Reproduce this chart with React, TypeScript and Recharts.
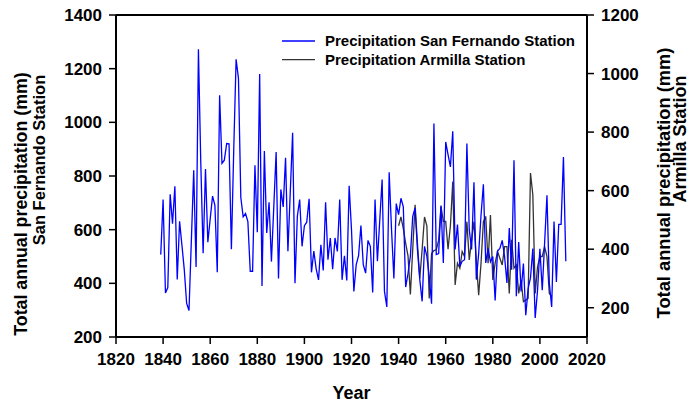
import React from 'react'
import { LineChart, Line, XAxis, YAxis, ReferenceLine } from 'recharts'

const FONT = '"Liberation Sans", Arial, sans-serif'

const firstYear = 1839
const armillaFirstYear = 1940

// total annual precipitation, San Fernando station (mm), 1839-2011
const sanFernando = [
  507, 712, 364, 384, 732, 622, 762, 414, 631, 542,
  450, 325, 299, 560, 821, 461, 1272, 850, 512, 826,
  553, 640, 725, 691, 441, 1101, 847, 859, 921, 920,
  527, 900, 1235, 1164, 720, 648, 660, 630, 445, 445,
  840, 590, 1180, 390, 893, 588, 702, 481, 685, 889,
  418, 750, 685, 868, 520, 740, 961, 400, 650, 712,
  538, 615, 628, 715, 441, 520, 454, 413, 544, 448,
  702, 488, 569, 453, 569, 519, 712, 413, 503, 411,
  764, 600, 370, 470, 503, 615, 470, 438, 560, 538,
  366, 712, 482, 635, 787, 370, 312, 814, 600, 418,
  697, 656, 717, 685, 386, 437, 501, 650, 681, 526,
  414, 333, 538, 501, 426, 324, 996, 507, 511, 690,
  476, 927, 880, 834, 967, 526, 619, 463, 482, 488,
  921, 600, 526, 777, 414, 511, 654, 769, 476, 530,
  480, 500, 336, 520, 530, 560, 500, 401, 606, 451,
  859, 352, 554, 370, 474, 281, 380, 420, 530, 271,
  374, 529, 374, 550, 728, 400, 312, 630, 405, 620,
  620, 871, 482,
]

// total annual precipitation, Armilla station (mm), 1940-2005
const armilla = [
  480, 510, 470, 420, 377, 245, 400, 552, 420, 300,
  400, 510, 480, 232, 385, 395, 398, 430, 546, 495,
  495, 400, 480, 631, 278, 352, 335, 392, 375, 494,
  363, 432, 494, 363, 243, 352, 494, 512, 352, 517,
  295, 352, 392, 369, 346, 409, 409, 249, 432, 335,
  346, 249, 295, 221, 226, 232, 660, 586, 249, 340,
  375, 375, 409, 375, 249, 240,
]

const yearTicks = [1820, 1840, 1860, 1880, 1900, 1920, 1940, 1960, 1980, 2000, 2020]
const leftTicks = [200, 400, 600, 800, 1000, 1200, 1400]
const rightTicks = [200, 400, 600, 800, 1000, 1200]

const legendItems = [
  { name: 'Precipitation San Fernando Station', color: '#0000ff' },
  { name: 'Precipitation Armilla Station', color: '#333333' },
]

const data = sanFernando.map((v, i) => {
  const year = firstYear + i
  const a = armilla[year - armillaFirstYear]
  return { year, sf: v, arm: a === undefined ? null : a }
})

const tickStyle = { fill: '#000', fontSize: 17, fontWeight: 700, fontFamily: FONT }

export default function App() {
  return (
    <div style={{ position: 'absolute', left: 0, top: 0, width: 691, height: 403, background: '#fff' }}>
      <LineChart width={691} height={403} data={data} margin={{ top: 15, right: 0, left: 0, bottom: 0 }}>
        <XAxis
          dataKey="year"
          type="number"
          domain={[1820, 2020]}
          ticks={yearTicks}
          height={66}
          tick={tickStyle}
          tickSize={7}
          tickMargin={9}
          axisLine={{ stroke: '#000', strokeWidth: 2 }}
          tickLine={{ stroke: '#000', strokeWidth: 1.5 }}
          interval={0}
        />
        <YAxis
          yAxisId="left"
          domain={[200, 1400]}
          ticks={leftTicks}
          width={116}
          tick={tickStyle}
          tickSize={7}
          tickMargin={7}
          axisLine={{ stroke: '#000', strokeWidth: 2 }}
          tickLine={{ stroke: '#000', strokeWidth: 1.5 }}
          interval={0}
        />
        <YAxis
          yAxisId="right"
          orientation="right"
          domain={[100, 1200]}
          ticks={rightTicks}
          width={104}
          tick={tickStyle}
          tickSize={7}
          tickMargin={7}
          axisLine={{ stroke: '#000', strokeWidth: 2 }}
          tickLine={{ stroke: '#000', strokeWidth: 1.5 }}
          interval={0}
        />
        <ReferenceLine yAxisId="left" y={1400} stroke="#000" strokeWidth={2} />
        <Line
          yAxisId="right"
          type="linear"
          dataKey="arm"
          stroke="#333333"
          strokeWidth={1.3}
          dot={false}
          isAnimationActive={false}
        />
        <Line
          yAxisId="left"
          type="linear"
          dataKey="sf"
          stroke="#0000ff"
          strokeWidth={1.3}
          dot={false}
          isAnimationActive={false}
        />
      </LineChart>
      <svg
        width={691}
        height={403}
        style={{ position: 'absolute', left: 0, top: 0, pointerEvents: 'none' }}
        fontFamily={FONT}
        fontWeight={700}
      >
        <text transform="translate(27,204) rotate(-90)" textAnchor="middle" fontSize={17.8}>
          Total annual precipitation (mm)
        </text>
        <text transform="translate(45,160) rotate(-90)" textAnchor="middle" fontSize={16.5}>
          San Fernando Station
        </text>
        <text transform="translate(670,183) rotate(-90)" textAnchor="middle" fontSize={18.3}>
          Total annual precipitation (mm)
        </text>
        <text transform="translate(686,139) rotate(-90)" textAnchor="middle" fontSize={18}>
          Armilla Station
        </text>
        <text x={351.5} y={399} textAnchor="middle" fontSize={18}>
          Year
        </text>
        {legendItems.map((item, i) => (
          <g key={item.name}>
            <line x1={282} x2={315} y1={41 + i * 18.7} y2={41 + i * 18.7} stroke={item.color} strokeWidth={1.3} />
            <text x={325} y={46.3 + i * 18.7} fontSize={15}>
              {item.name}
            </text>
          </g>
        ))}
      </svg>
    </div>
  )
}
